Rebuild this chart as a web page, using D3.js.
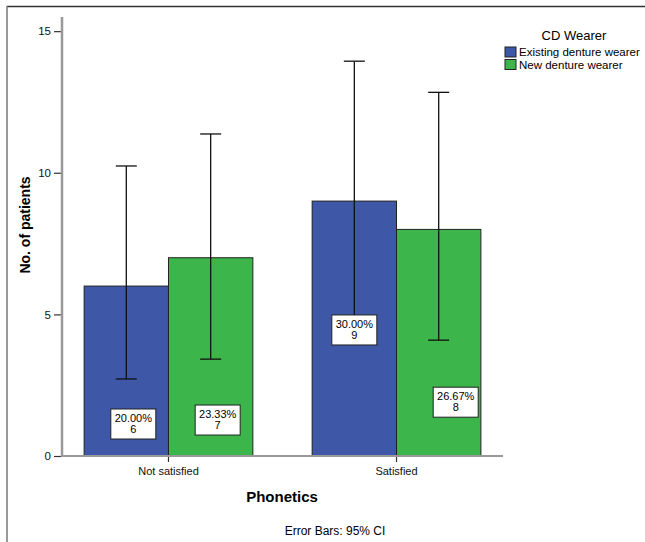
<html>
<head>
    <script src="https://d3js.org/d3.v7.min.js"></script>
</head>
<body style="margin:0; background:#fff;">

<div id="chart"></div>

<script>

// data
var categories = ["Not satisfied", "Satisfied"];
var groups = ["Existing denture wearer", "New denture wearer"];
var counts = [[6, 7], [9, 8]];
var percents = [["20.00%", "23.33%"], ["30.00%", "26.67%"]];
var ciLow = [[2.72, 3.42], [4.94, 4.09]];
var ciHigh = [[10.24, 11.37], [13.94, 12.84]];
var yTicks = [0, 5, 10, 15];

var colors = ["#3e57a7", "#3cb54a"];
// where SPSS dropped the value labels (value units, pixel nudge)
var labelAt = [[1.13, 1.27], [4.45, 1.9]];
var labelDx = [[7, 7], [0, 17]];

var W = 645, H = 542;
var font = "Liberation Sans, Arial, sans-serif";

var svg = d3.select("#chart")
    .append("svg")
    .attr("width", W)
    .attr("height", H)
    .style("font-family", font);

// frame (top and left edge only, rest is cropped)
svg.append("line").attr("x1", 7).attr("x2", W).attr("y1", 6.5).attr("y2", 6.5)
    .attr("stroke", "#333").attr("stroke-width", 1.5);
svg.append("line").attr("x1", 7).attr("x2", 7).attr("y1", 6).attr("y2", H)
    .attr("stroke", "#777").attr("stroke-width", 1.5);

var x0 = d3.scaleBand()
    .domain(categories)
    .range([62, 503])
    .paddingInner(0.26)
    .paddingOuter(0.097);

var x1 = d3.scaleBand()
    .domain(groups)
    .range([0, x0.bandwidth()]);

var y = d3.scaleLinear()
    .domain([0, 15.5])
    .range([456, 17]);

var rows = [];
categories.forEach(function(c, i) {
    groups.forEach(function(g, j) {
        rows.push({cat: c, grp: g, j: j, n: counts[i][j], pct: percents[i][j],
            lo: ciLow[i][j], hi: ciHigh[i][j], ly: labelAt[i][j], dx: labelDx[i][j]});
    });
});

// bars
svg.append("g")
    .selectAll("rect")
    .data(rows)
    .enter()
    .append("rect")
    .attr("x", function(d) { return x0(d.cat) + x1(d.grp); })
    .attr("y", function(d) { return y(d.n); })
    .attr("width", x1.bandwidth())
    .attr("height", function(d) { return y(0) - y(d.n); })
    .attr("fill", function(d) { return colors[d.j]; })
    .attr("stroke", "#222")
    .attr("stroke-width", 1);

// error bars
var eb = svg.append("g").attr("stroke", "#111").attr("stroke-width", 1.3);
rows.forEach(function(d) {
    var cx = x0(d.cat) + x1(d.grp) + x1.bandwidth() / 2;
    eb.append("line").attr("x1", cx).attr("x2", cx).attr("y1", y(d.lo)).attr("y2", y(d.hi));
    eb.append("line").attr("x1", cx - 10.5).attr("x2", cx + 10.5).attr("y1", y(d.lo)).attr("y2", y(d.lo));
    eb.append("line").attr("x1", cx - 10.5).attr("x2", cx + 10.5).attr("y1", y(d.hi)).attr("y2", y(d.hi));
});

// value labels
var lab = svg.append("g")
    .selectAll("g")
    .data(rows)
    .enter()
    .append("g")
    .attr("transform", function(d) {
        var cx = x0(d.cat) + x1(d.grp) + x1.bandwidth() / 2 + d.dx;
        return "translate(" + cx + "," + y(d.ly) + ")";
    });
lab.append("rect")
    .attr("x", -22.5).attr("y", -15).attr("width", 45).attr("height", 30)
    .attr("fill", "#fff").attr("stroke", "#222").attr("stroke-width", 1);
lab.append("text")
    .attr("text-anchor", "middle")
    .attr("y", -2)
    .style("font-size", "11px")
    .text(function(d) { return d.pct; });
lab.append("text")
    .attr("text-anchor", "middle")
    .attr("y", 9)
    .style("font-size", "11px")
    .text(function(d) { return d.n; });

// y axis
var yAxis = svg.append("g")
    .attr("transform", "translate(62,0)")
    .style("color", "#111")
    .call(d3.axisLeft(y).tickValues(yTicks).tickSize(8).tickPadding(3).tickFormat(d3.format("d")));
yAxis.select(".domain").remove();
yAxis.selectAll("text").style("font-size", "11.5px").style("font-family", font).attr("fill", "#111");
yAxis.selectAll(".tick line").attr("stroke", "#333").attr("stroke-width", 1.2);
svg.append("line").attr("x1", 62).attr("x2", 62).attr("y1", 17).attr("y2", 457)
    .attr("stroke", "#999").attr("stroke-width", 2.5);

// x axis
var xAxis = svg.append("g")
    .attr("transform", "translate(0,456)")
    .style("color", "#111")
    .call(d3.axisBottom(x0).tickSize(6).tickPadding(5));
xAxis.select(".domain").remove();
xAxis.selectAll("text").style("font-size", "11px").style("font-family", font).attr("fill", "#111");
xAxis.selectAll(".tick line").attr("stroke", "#333").attr("stroke-width", 1.2);
svg.append("line").attr("x1", 61).attr("x2", 503).attr("y1", 456).attr("y2", 456)
    .attr("stroke", "#999").attr("stroke-width", 2);

// axis titles
svg.append("text")
    .attr("transform", "translate(30,225) rotate(-90)")
    .attr("text-anchor", "middle")
    .style("font-size", "14px")
    .style("font-weight", "bold")
    .text("No. of patients");

svg.append("text")
    .attr("x", 282)
    .attr("y", 502)
    .attr("text-anchor", "middle")
    .style("font-size", "15px")
    .style("font-weight", "bold")
    .text("Phonetics");

svg.append("text")
    .attr("x", 335)
    .attr("y", 535)
    .attr("text-anchor", "middle")
    .style("font-size", "12px")
    .text("Error Bars: 95% CI");

// legend
svg.append("text")
    .attr("x", 574)
    .attr("y", 40)
    .attr("text-anchor", "middle")
    .style("font-size", "13px")
    .text("CD Wearer");

var leg = svg.append("g")
    .selectAll("g")
    .data(groups)
    .enter()
    .append("g")
    .attr("transform", function(d, i) { return "translate(505," + (47 + i * 12.5) + ")"; });
leg.append("rect")
    .attr("width", 11).attr("height", 10)
    .attr("fill", function(d, i) { return colors[i]; })
    .attr("stroke", "#222").attr("stroke-width", 1);
leg.append("text")
    .attr("x", 14)
    .attr("y", 9)
    .style("font-size", "11.5px")
    .text(function(d) { return d; });

</script>

</body>
</html>
